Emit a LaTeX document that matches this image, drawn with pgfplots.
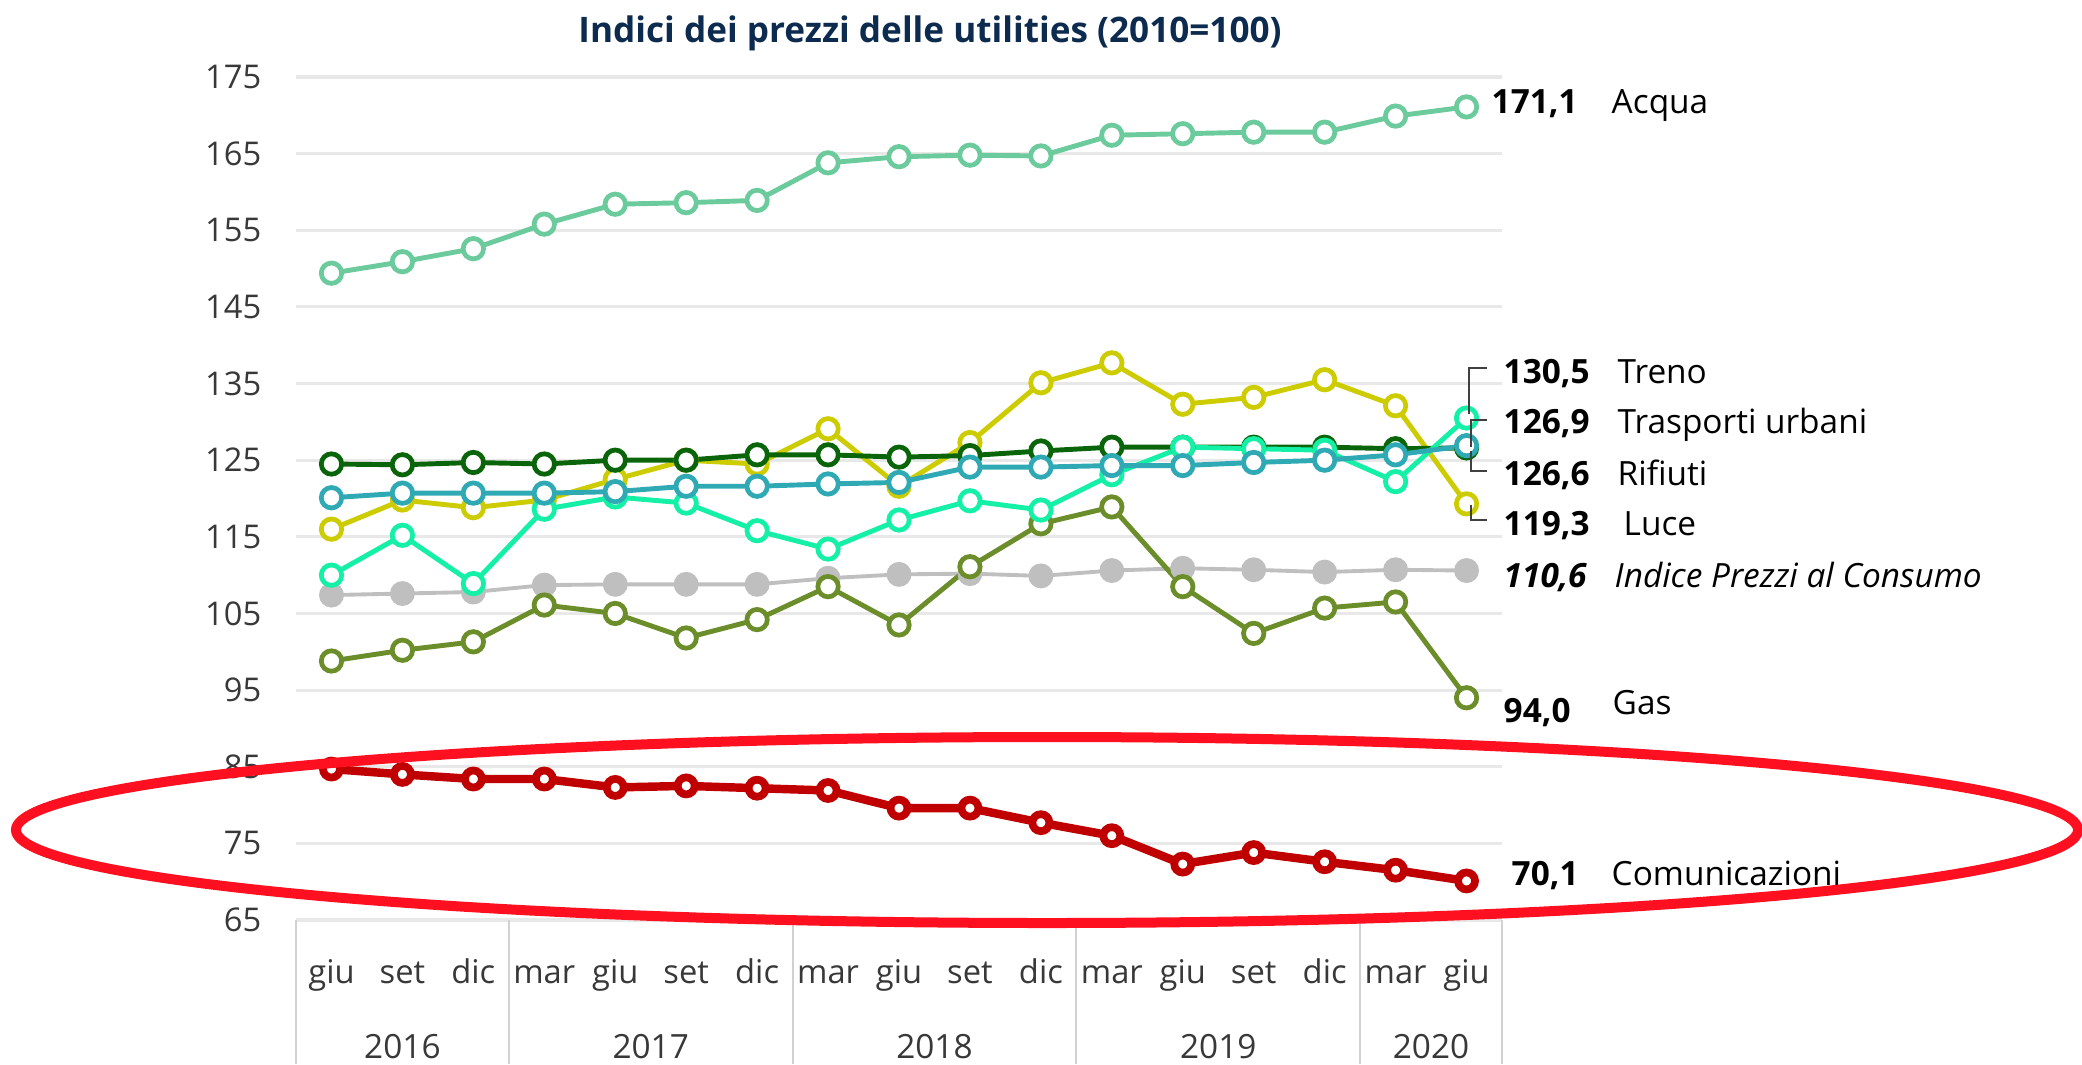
\documentclass[border=0pt]{standalone}
\usepackage{fontspec}
\setmainfont{Open Sans}
\usepackage{pgfplots}
\usepackage{pgfplotstable}
\pgfplotsset{compat=1.18}

\definecolor{cAcqua}{HTML}{6CCB9C}
\definecolor{cIpc}{HTML}{BFBFBF}
\definecolor{cGas}{HTML}{6B8E2A}
\definecolor{cLuce}{HTML}{CCCC00}
\definecolor{cRif}{HTML}{0A650A}
\definecolor{cTras}{HTML}{2FAAB4}
\definecolor{cTreno}{HTML}{14F0A5}
\definecolor{cCom}{HTML}{C00000}
\definecolor{cTitle}{HTML}{0D2B4E}
\definecolor{cEll}{HTML}{FF1020}

% i, acqua, ipc, gas, luce, rifiuti, trasporti urbani, treno, comunicazioni
\pgfplotstableread{
i acqua ipc gas luce rif tras treno com
0 149.4 107.4 98.8 116.0 124.5 120.1 110.0 84.7
1 150.9 107.6 100.2 119.8 124.4 120.7 115.2 84.0
2 152.6 107.8 101.3 118.8 124.7 120.7 108.9 83.4
3 155.8 108.7 106.1 119.8 124.5 120.7 118.6 83.4
4 158.4 108.8 105.0 122.5 125.0 120.9 120.2 82.3
5 158.6 108.8 101.8 125.0 125.0 121.6 119.4 82.5
6 158.9 108.8 104.2 124.5 125.7 121.6 115.8 82.2
7 163.8 109.6 108.5 129.1 125.7 121.9 113.4 81.9
8 164.6 110.1 103.5 121.6 125.4 122.1 117.2 79.6
9 164.8 110.2 111.1 127.3 125.6 124.1 119.7 79.6
10 164.7 109.9 116.7 135.1 126.2 124.1 118.5 77.7
11 167.4 110.6 118.9 137.7 126.7 124.3 123.1 76.0
12 167.6 110.9 108.5 132.3 126.7 124.3 126.7 72.3
13 167.8 110.7 102.4 133.2 126.7 124.7 126.5 73.8
14 167.8 110.4 105.7 135.5 126.7 125.0 126.3 72.6
15 169.9 110.7 106.5 132.1 126.5 125.7 122.2 71.5
16 171.1 110.6 94.0 119.3 126.6 126.9 130.5 70.1
}\utilities

\newcommand{\lab}{\fontsize{9.5}{11}\selectfont}

\begin{document}
\begin{tikzpicture}
\useasboundingbox (0,0) rectangle (208.2mm,106.4mm);
\begin{axis}[
  at={(29.6mm,14.4mm)}, anchor=south west,
  scale only axis, width=120.6mm, height=84.3mm,
  xmin=-0.5, xmax=16.5, ymin=65, ymax=175,
  ytick={65,75,...,175},
  xtick={0,...,16},
  xticklabels={giu,set,dic,mar,giu,set,dic,mar,giu,set,dic,mar,giu,set,dic,mar,giu},
  axis line style={draw=none}, major tick length=0pt,
  ymajorgrids, grid style={black!9, line width=0.9pt},
  tick label style={font=\fontsize{9.3}{11}\selectfont, text=black!78},
  yticklabel style={anchor=east, inner sep=0pt, xshift=-3.4mm},
  xticklabel style={anchor=base, inner sep=0pt, yshift=-6.3mm},
  /pgf/number format/assume math mode=true,
  clip=false,
  every axis plot/.append style={line width=1.4pt},
  omark/.style={mark=*, mark size=1.02mm, mark options={fill=white, line width=1.35pt}},
]
\addplot[cAcqua, omark] table[x=i, y=acqua] {\utilities};
\addplot[cIpc, line width=1.1pt, mark=*, mark size=1.05mm, mark options={fill=cIpc, draw=cIpc}] table[x=i, y=ipc] {\utilities};
\addplot[cGas, omark] table[x=i, y=gas] {\utilities};
\addplot[cLuce, omark] table[x=i, y=luce] {\utilities};
\addplot[cRif, omark] table[x=i, y=rif] {\utilities};
\addplot[cTreno, omark] table[x=i, y=treno] {\utilities};
\addplot[cTras, omark] table[x=i, y=tras] {\utilities};
\addplot[cCom, line width=2.4pt, mark=*, mark size=0.85mm, mark options={fill=white, line width=2.2pt}] table[x=i, y=com] {\utilities};

% category separators and years
\pgfplotsinvokeforeach{-0.5,2.5,6.5,10.5,14.5,16.5}{
  \draw[black!18, line width=0.6pt] (axis cs:#1,65) -- ([yshift=-14.4mm]axis cs:#1,65);
}
\node[font=\lab, text=black!78, anchor=base] at ([yshift=-13.8mm]axis cs:1,65) {2016};
\node[font=\lab, text=black!78, anchor=base] at ([yshift=-13.8mm]axis cs:4.5,65) {2017};
\node[font=\lab, text=black!78, anchor=base] at ([yshift=-13.8mm]axis cs:8.5,65) {2018};
\node[font=\lab, text=black!78, anchor=base] at ([yshift=-13.8mm]axis cs:12.5,65) {2019};
\node[font=\lab, text=black!78, anchor=base] at ([yshift=-13.8mm]axis cs:15.5,65) {2020};
\end{axis}

% title
\node[anchor=base, font=\fontsize{10}{12}\selectfont\bfseries, text=cTitle] at (93.0mm,102.2mm) {Indici dei prezzi delle utilities (2010=100)};

% end labels
\begin{scope}[every node/.style={anchor=base west, inner sep=0pt, font=\lab}]
\node at (149.1mm,95.1mm) {\bfseries 171,1};   \node at (161.1mm,95.1mm) {Acqua};
\node at (150.3mm,68.1mm) {\bfseries 130,5};   \node at (161.7mm,68.1mm) {Treno};
\node at (150.3mm,63.1mm) {\bfseries 126,9};   \node at (161.7mm,63.1mm) {Trasporti urbani};
\node at (150.3mm,57.9mm) {\bfseries 126,6};   \node at (161.7mm,57.9mm) {Rifiuti};
\node at (150.3mm,52.9mm) {\bfseries 119,3};   \node at (162.3mm,52.9mm) {Luce};
\node at (150.3mm,47.7mm) {\bfseries\itshape 110,6}; \node at (161.4mm,47.7mm) {\itshape Indice Prezzi al Consumo};
\node at (150.3mm,34.2mm) {\bfseries 94,0};    \node at (161.2mm,35.0mm) {Gas};
\node at (151.1mm,17.9mm) {\bfseries 70,1};    \node at (161.1mm,17.9mm) {Comunicazioni};
\end{scope}

% leader lines
\begin{scope}[black!75, line width=0.6pt]
\draw (148.7mm,69.6mm) -- (146.9mm,69.6mm) -- (146.9mm,65.0mm);
\draw (148.7mm,64.4mm) -- (147.1mm,64.4mm) -- (147.1mm,61.7mm);
\draw (148.7mm,59.3mm) -- (147.1mm,59.3mm) -- (147.1mm,61.3mm);
\draw (148.7mm,54.4mm) -- (147.1mm,54.4mm) -- (147.1mm,55.9mm);
\end{scope}

% highlight
\draw[cEll, line width=1mm] (104.7mm,23.4mm) ellipse [x radius=103.1mm, y radius=9.3mm];
\end{tikzpicture}
\end{document}
